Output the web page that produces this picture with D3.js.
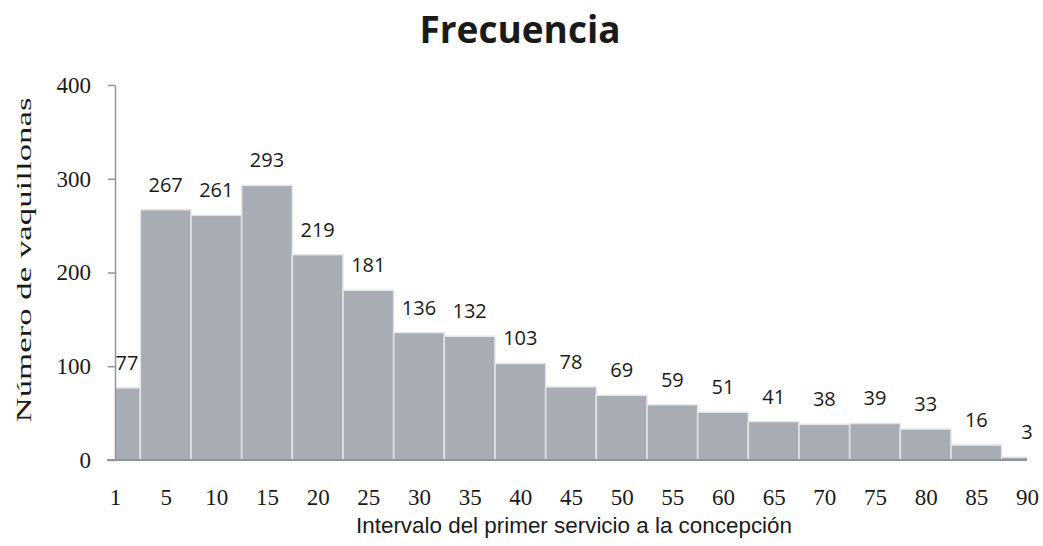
<!DOCTYPE html>
<html>
<head>
<meta charset="utf-8">
<script src="https://cdn.jsdelivr.net/npm/d3@7.9.0/dist/d3.min.js"></script>
<style>
  body { margin: 0; background: #fff; }
</style>
</head>
<body>
<div id="chart"></div>
<script>
const categories = ['1', '5', '10', '15', '20', '25', '30', '35', '40', '45', '50', '55', '60', '65', '70', '75', '80', '85', '90'];
const frecuencia = [77, 267, 261, 293, 219, 181, 136, 132, 103, 78, 69, 59, 51, 41, 38, 39, 33, 16, 3];
const yTicks = [0, 100, 200, 300, 400];

const width = 1043
const height = 546
const plotLeft = 115
const plotRight = 1027
const plotTop = 85
const plotBottom = 460

const svg = d3.select('#chart')
    .append('svg')
    .attr('width', width)
    .attr('height', height)

const x = d3.scalePoint()
    .domain(categories)
    .range([plotLeft, plotRight])

const y = d3.scaleLinear()
    .domain([0, 400])
    .range([plotBottom, plotTop])

const step = x.step()

// clip so the first and last bars are cut in half at the plot edges
svg.append('clipPath')
    .attr('id', 'plot-clip')
    .append('rect')
    .attr('x', plotLeft)
    .attr('y', 0)
    .attr('width', plotRight - plotLeft)
    .attr('height', plotBottom)

// Title
svg.append('text')
    .attr('x', 520)
    .attr('y', 43)
    .attr('text-anchor', 'middle')
    .attr('font-family', '"Open Sans", sans-serif')
    .attr('font-weight', 'bold')
    .attr('font-size', 37)
    .attr('fill', '#1a1a1a')
    .text('Frecuencia')

// Bars
svg.append('g')
    .attr('clip-path', 'url(#plot-clip)')
    .selectAll('rect')
    .data(frecuencia)
    .join('rect')
    .attr('x', (d, i) => x(categories[i]) - step / 2)
    .attr('y', d => y(d))
    .attr('width', step)
    .attr('height', d => plotBottom - y(d))
    .attr('fill', '#a8adb5')
    .attr('stroke', '#e4e6e9')
    .attr('stroke-width', 1.5)

// Value labels
svg.append('g')
    .selectAll('text')
    .data(frecuencia)
    .join('text')
    .attr('x', (d, i) => Math.max(x(categories[i]), plotLeft + 12))
    .attr('y', d => y(d) - 18)
    .attr('text-anchor', 'middle')
    .attr('font-family', '"Open Sans", sans-serif')
    .attr('font-size', 20)
    .attr('fill', '#1a1a1a')
    .text(d => d)

// Y axis
const yAxis = svg.append('g')
    .attr('transform', `translate(${plotLeft},0)`)
    .call(d3.axisLeft(y).tickValues(yTicks).tickSize(7).tickSizeOuter(0).tickPadding(17))
yAxis.select('.domain').attr('stroke', '#8f959c').attr('stroke-width', 1.5)
yAxis.selectAll('.tick line').attr('stroke', '#8f959c').attr('stroke-width', 1.5)
yAxis.selectAll('.tick text')
    .attr('font-family', '"Liberation Serif", "Times New Roman", serif')
    .attr('font-size', 23)
    .attr('fill', '#1a1a1a')

// X axis
svg.append('line')
    .attr('x1', plotLeft - 8)
    .attr('x2', plotRight)
    .attr('y1', plotBottom)
    .attr('y2', plotBottom)
    .attr('stroke', '#8f959c')
    .attr('stroke-width', 2)

const xAxis = svg.append('g')
    .attr('transform', `translate(0,${plotBottom})`)
    .call(d3.axisBottom(x).tickSize(0).tickPadding(29))
xAxis.select('.domain').remove()
xAxis.selectAll('.tick text')
    .attr('font-family', '"Liberation Serif", "Times New Roman", serif')
    .attr('font-size', 23)
    .attr('fill', '#1a1a1a')

// Axis titles
svg.append('text')
    .attr('x', 574)
    .attr('y', 533)
    .attr('text-anchor', 'middle')
    .attr('font-family', '"Liberation Sans", Arial, sans-serif')
    .attr('font-size', 22)
    .attr('textLength', 436)
    .attr('lengthAdjust', 'spacingAndGlyphs')
    .attr('fill', '#1a1a1a')
    .text('Intervalo del primer servicio a la concepción')

svg.append('text')
    .attr('transform', 'translate(31,260) rotate(-90)')
    .attr('text-anchor', 'middle')
    .attr('font-family', '"Liberation Serif", "Times New Roman", serif')
    .attr('font-size', 22)
    .attr('textLength', 325)
    .attr('lengthAdjust', 'spacingAndGlyphs')
    .attr('fill', '#1a1a1a')
    .text('Número de vaquillonas')
</script>
</body>
</html>
